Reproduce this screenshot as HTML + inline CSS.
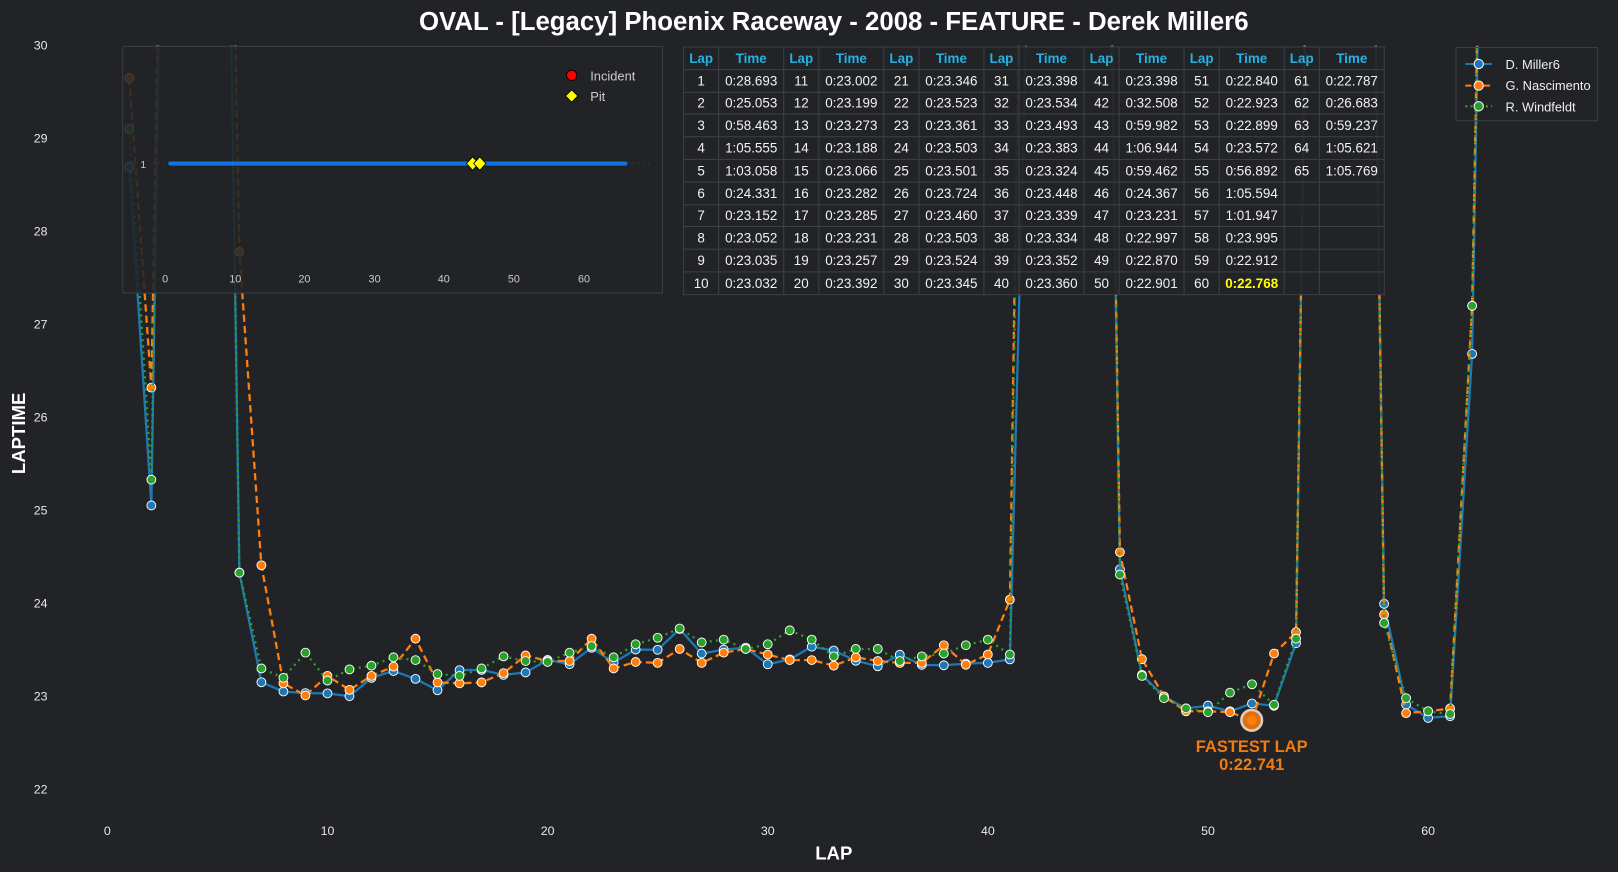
<!DOCTYPE html>
<html><head><meta charset="utf-8">
<style>
html,body{margin:0;padding:0;background:#212327;overflow:hidden}
#wrap{position:absolute;left:0;top:0;width:1568px;height:845px;transform:scale(1.03189);transform-origin:0 0;background:#212327;font-family:"Liberation Sans",Arial,sans-serif;color:#fff}
svg{position:absolute;left:0;top:0}
#tbl{position:absolute;left:662px;top:45px;border-collapse:collapse;background:rgba(33,35,39,0.93);font-size:13px}
#tbl td,#tbl th{border:1px solid #3d4046;height:20.8px;padding:0;text-align:center;color:#f2f2f2;font-weight:normal}
#tbl th{color:#22b4e6;font-weight:bold}
#tbl .l{width:33px}#tbl .t{width:62px}
#tbl .fl{color:#ffff00;font-weight:bold}
</style></head><body><div id="wrap">
<svg id="main" width="1568" height="845" viewBox="0 0 1568 845">
<defs><clipPath id="cp"><rect x="60" y="44" width="1500" height="760"/></clipPath></defs>
<text x="808" y="29" text-anchor="middle" font-size="25" font-weight="bold" fill="#fff">OVAL - [Legacy] Phoenix Raceway - 2008 - FEATURE - Derek Miller6</text>
<text transform="translate(24,420) rotate(-90)" text-anchor="middle" font-size="18" font-weight="bold" fill="#fff">LAPTIME</text>
<text x="808" y="833" text-anchor="middle" font-size="18" font-weight="bold" fill="#fff">LAP</text>
<g id="ticks" font-size="12" fill="#e8e8e8"></g>
<g id="series" clip-path="url(#cp)"></g>
<circle cx="1213" cy="698" r="10" fill="#e8740e" stroke="#e6d6c6" stroke-width="2.5" opacity="0.95"/>
<circle cx="1213" cy="698" r="4.5" fill="#ff7f0e"/>
<text x="1213" y="729" text-anchor="middle" font-size="16" font-weight="bold" fill="#f07c10">FASTEST LAP</text>
<text x="1213" y="746" text-anchor="middle" font-size="16" font-weight="bold" fill="#f07c10">0:22.741</text>
<rect x="119" y="45" width="523" height="239" fill="rgba(33,35,39,0.88)" stroke="#3b3e44" stroke-width="1"/>
<line x1="148" y1="158" x2="630" y2="158" stroke="#444" stroke-dasharray="2,3" stroke-width="0.6"/>
<text x="136" y="163" font-size="10" fill="#ccc">1</text>
<line x1="165" y1="158.5" x2="606" y2="158.5" stroke="#1273e0" stroke-width="4" stroke-linecap="round"/>
<polygon points="458,152 464,158.5 458,165 452,158.5" fill="#ffff00" stroke="#000" stroke-width="0.8"/>
<polygon points="465,152 471,158.5 465,165 459,158.5" fill="#ffff00" stroke="#000" stroke-width="0.8"/>
<g font-size="10.5" fill="#ccc" text-anchor="middle">
<text x="160" y="274">0</text><text x="228" y="274">10</text><text x="295" y="274">20</text><text x="363" y="274">30</text><text x="430" y="274">40</text><text x="498" y="274">50</text><text x="566" y="274">60</text></g>
<circle cx="554" cy="73" r="5" fill="#ff0000" stroke="#000" stroke-width="0.8"/>
<polygon points="554,87 560,93 554,99 548,93" fill="#ffff00" stroke="#000" stroke-width="0.8"/>
<text x="572" y="78" font-size="12.5" fill="#ccc">Incident</text>
<text x="572" y="98" font-size="12.5" fill="#ccc">Pit</text>
<rect x="1411" y="46" width="137" height="71" fill="none" stroke="#3b3e44"/>
<line x1="1420" y1="62" x2="1446" y2="62" stroke="#1f77b4" stroke-width="2"/><circle cx="1433" cy="62" r="4.5" fill="#1f77b4" stroke="#fff"/>
<line x1="1420" y1="83" x2="1446" y2="83" stroke="#ff7f0e" stroke-width="2" stroke-dasharray="6,3"/><circle cx="1433" cy="83" r="4.5" fill="#ff7f0e" stroke="#fff"/>
<line x1="1420" y1="103" x2="1446" y2="103" stroke="#2ca02c" stroke-width="2" stroke-dasharray="2,3"/><circle cx="1433" cy="103" r="4.5" fill="#2ca02c" stroke="#fff"/>
<g font-size="12.5" fill="#eee"><text x="1459" y="67">D. Miller6</text><text x="1459" y="87">G. Nascimento</text><text x="1459" y="108">R. Windfeldt</text></g>
</svg>
<table id="tbl">
<tr><th class="l">Lap</th><th class="t">Time</th><th class="l">Lap</th><th class="t">Time</th><th class="l">Lap</th><th class="t">Time</th><th class="l">Lap</th><th class="t">Time</th><th class="l">Lap</th><th class="t">Time</th><th class="l">Lap</th><th class="t">Time</th><th class="l">Lap</th><th class="t">Time</th></tr>
<tr><td>1</td><td>0:28.693</td><td>11</td><td>0:23.002</td><td>21</td><td>0:23.346</td><td>31</td><td>0:23.398</td><td>41</td><td>0:23.398</td><td>51</td><td>0:22.840</td><td>61</td><td>0:22.787</td></tr>
<tr><td>2</td><td>0:25.053</td><td>12</td><td>0:23.199</td><td>22</td><td>0:23.523</td><td>32</td><td>0:23.534</td><td>42</td><td>0:32.508</td><td>52</td><td>0:22.923</td><td>62</td><td>0:26.683</td></tr>
<tr><td>3</td><td>0:58.463</td><td>13</td><td>0:23.273</td><td>23</td><td>0:23.361</td><td>33</td><td>0:23.493</td><td>43</td><td>0:59.982</td><td>53</td><td>0:22.899</td><td>63</td><td>0:59.237</td></tr>
<tr><td>4</td><td>1:05.555</td><td>14</td><td>0:23.188</td><td>24</td><td>0:23.503</td><td>34</td><td>0:23.383</td><td>44</td><td>1:06.944</td><td>54</td><td>0:23.572</td><td>64</td><td>1:05.621</td></tr>
<tr><td>5</td><td>1:03.058</td><td>15</td><td>0:23.066</td><td>25</td><td>0:23.501</td><td>35</td><td>0:23.324</td><td>45</td><td>0:59.462</td><td>55</td><td>0:56.892</td><td>65</td><td>1:05.769</td></tr>
<tr><td>6</td><td>0:24.331</td><td>16</td><td>0:23.282</td><td>26</td><td>0:23.724</td><td>36</td><td>0:23.448</td><td>46</td><td>0:24.367</td><td>56</td><td>1:05.594</td><td></td><td></td></tr>
<tr><td>7</td><td>0:23.152</td><td>17</td><td>0:23.285</td><td>27</td><td>0:23.460</td><td>37</td><td>0:23.339</td><td>47</td><td>0:23.231</td><td>57</td><td>1:01.947</td><td></td><td></td></tr>
<tr><td>8</td><td>0:23.052</td><td>18</td><td>0:23.231</td><td>28</td><td>0:23.503</td><td>38</td><td>0:23.334</td><td>48</td><td>0:22.997</td><td>58</td><td>0:23.995</td><td></td><td></td></tr>
<tr><td>9</td><td>0:23.035</td><td>19</td><td>0:23.257</td><td>29</td><td>0:23.524</td><td>39</td><td>0:23.352</td><td>49</td><td>0:22.870</td><td>59</td><td>0:22.912</td><td></td><td></td></tr>
<tr><td>10</td><td>0:23.032</td><td>20</td><td>0:23.392</td><td>30</td><td>0:23.345</td><td>40</td><td>0:23.360</td><td>50</td><td>0:22.901</td><td>60</td><td class="fl">0:22.768</td><td></td><td></td></tr>
</table>
</div>
<script>
var X=function(l){return 104+21.333*l},Y=function(v){return 44+(30-v)*90.12};
var NS="http://www.w3.org/2000/svg";
var tk=document.getElementById('ticks');
function t(x,y,s,a){var e=document.createElementNS(NS,'text');e.setAttribute('x',x);e.setAttribute('y',y);e.setAttribute('text-anchor',a);e.textContent=s;tk.appendChild(e);}
for(var v=22;v<=30;v++)t(46,Y(v)+4,v,'end');
for(var l=0;l<=60;l+=10)t(X(l),809,l,'middle');
var H=70;
var blue=[28.693,25.053,58.463,65.555,63.058,24.331,23.152,23.052,23.035,23.032,23.002,23.199,23.273,23.188,23.066,23.282,23.285,23.231,23.257,23.392,23.346,23.523,23.361,23.503,23.501,23.724,23.460,23.503,23.524,23.345,23.398,23.534,23.493,23.383,23.324,23.448,23.339,23.334,23.352,23.360,23.398,32.508,59.982,66.944,59.462,24.367,23.231,22.997,22.870,22.901,22.840,22.923,22.899,23.572,56.892,65.594,61.947,23.995,22.912,22.768,22.787,26.683,59.237,65.621,65.769];
var orange=[29.65,26.32,H,H,H,27.78,24.41,23.14,23.01,23.22,23.07,23.22,23.32,23.62,23.15,23.14,23.15,23.25,23.44,23.38,23.38,23.62,23.30,23.37,23.36,23.51,23.36,23.47,23.51,23.45,23.39,23.39,23.33,23.42,23.38,23.36,23.36,23.55,23.34,23.45,24.04,H,H,H,H,24.55,23.40,23.00,22.84,22.84,22.83,22.741,23.46,23.69,H,H,H,23.88,22.82,22.84,22.87,27.2,H];
var green=[29.1,25.33,H,H,H,24.33,23.30,23.20,23.47,23.17,23.29,23.33,23.42,23.39,23.24,23.22,23.30,23.43,23.38,23.37,23.47,23.54,23.42,23.56,23.63,23.73,23.58,23.61,23.51,23.56,23.71,23.61,23.43,23.51,23.51,23.38,23.43,23.46,23.55,23.61,23.45,H,H,H,H,24.31,23.22,22.98,22.87,22.83,23.04,23.13,22.91,23.62,H,H,H,23.79,22.98,22.84,22.81,27.2,H];
var g=document.getElementById('series');
function draw(d,c,dash){
  var p='';d.forEach(function(v,i){p+=(i?'L':'M')+X(i+1).toFixed(1)+','+Y(Math.min(v,40)).toFixed(1);});
  var e=document.createElementNS(NS,'path');e.setAttribute('d',p);e.setAttribute('fill','none');e.setAttribute('stroke',c);e.setAttribute('stroke-width','2.2');if(dash)e.setAttribute('stroke-dasharray',dash);g.appendChild(e);
  d.forEach(function(v,i){if(v<30){var m=document.createElementNS(NS,'circle');m.setAttribute('cx',X(i+1));m.setAttribute('cy',Y(v));m.setAttribute('r',4.3);m.setAttribute('fill',c);m.setAttribute('stroke','#fff');m.setAttribute('stroke-width','0.9');g.appendChild(m);}});
}
draw(blue,'#1f77b4');draw(orange,'#ff7f0e','7,4');draw(green,'#2ca02c','2,4');
</script>
</body></html>
